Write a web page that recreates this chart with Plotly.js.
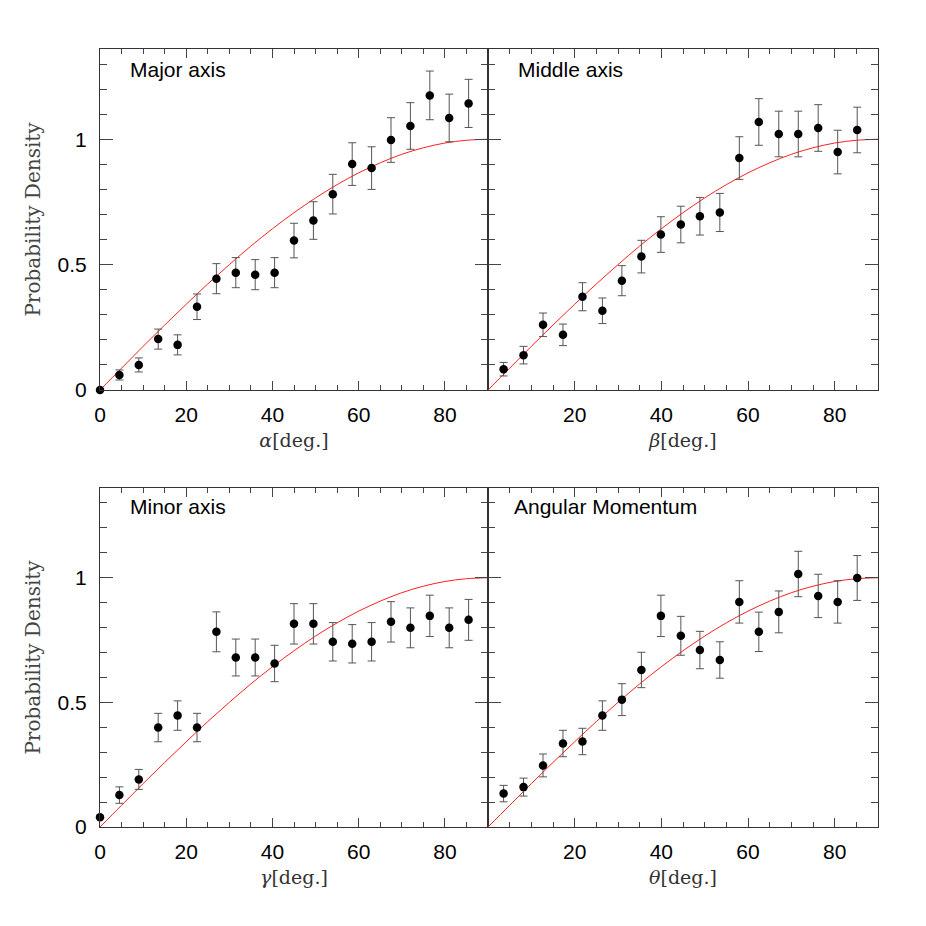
<!DOCTYPE html>
<html>
<head>
<meta charset="utf-8">
<script src="https://cdn.plot.ly/plotly-3.0.1.min.js"></script>
<style>html,body{margin:0;padding:0;background:#fff;}#chart{width:926px;height:926px;}</style>
</head>
<body>
<div id="chart"></div>
<script>
// Bin positions (degrees)
const xLeft = [0, 4.5, 9, 13.5, 18, 22.5, 27, 31.5, 36, 40.5, 45, 49.5, 54, 58.5, 63, 67.5, 72, 76.5, 81, 85.5];
const xRight = [3.6, 8.2, 12.7, 17.3, 21.8, 26.4, 30.9, 35.4, 39.9, 44.5, 48.9, 53.5, 58.0, 62.5, 67.1, 71.6, 76.2, 80.7, 85.2];

// Major axis (alpha)
const majorY   = [0.0, 0.06, 0.10, 0.203, 0.18, 0.332, 0.444, 0.468, 0.46, 0.468, 0.596, 0.676, 0.781, 0.901, 0.885, 0.997, 1.053, 1.175, 1.085, 1.143];
const majorErr = [0.0, 0.02, 0.028, 0.04, 0.04, 0.051, 0.06, 0.06, 0.06, 0.06, 0.069, 0.075, 0.079, 0.085, 0.085, 0.089, 0.093, 0.097, 0.095, 0.096];

// Middle axis (beta)
const middleY   = [0.083, 0.139, 0.26, 0.22, 0.372, 0.316, 0.436, 0.532, 0.62, 0.66, 0.693, 0.708, 0.925, 1.069, 1.021, 1.021, 1.045, 0.949, 1.037];
const middleErr = [0.027, 0.035, 0.047, 0.043, 0.056, 0.051, 0.06, 0.065, 0.071, 0.073, 0.075, 0.076, 0.085, 0.093, 0.091, 0.091, 0.093, 0.087, 0.091];

// Minor axis (gamma)
const minorY   = [0.039, 0.128, 0.191, 0.399, 0.447, 0.399, 0.783, 0.68, 0.68, 0.656, 0.815, 0.815, 0.743, 0.735, 0.743, 0.823, 0.799, 0.847, 0.799, 0.831];
const minorErr = [0.0, 0.033, 0.04, 0.057, 0.059, 0.057, 0.08, 0.074, 0.074, 0.073, 0.081, 0.081, 0.077, 0.077, 0.077, 0.081, 0.08, 0.083, 0.08, 0.082];

// Angular momentum (theta)
const angY   = [0.134, 0.16, 0.247, 0.335, 0.343, 0.447, 0.511, 0.63, 0.847, 0.767, 0.71, 0.67, 0.903, 0.783, 0.863, 1.015, 0.927, 0.903, 0.999];
const angErr = [0.033, 0.036, 0.046, 0.053, 0.053, 0.059, 0.064, 0.071, 0.083, 0.078, 0.075, 0.073, 0.085, 0.079, 0.084, 0.091, 0.087, 0.085, 0.09];

// Reference (isotropic) curve
const curveX = [0, 5, 10, 15, 20, 25, 30, 35, 40, 45, 50, 55, 60, 65, 70, 75, 80, 85, 90];
const curveY = [0, 0.087, 0.174, 0.259, 0.342, 0.423, 0.5, 0.574, 0.643, 0.707, 0.766, 0.819, 0.866, 0.906, 0.940, 0.966, 0.985, 0.996, 1.0];

const panelLabels = ['Major axis', 'Middle axis', 'Minor axis', 'Angular Momentum'];
const xTitles = ['<i>α</i>[deg.]', '<i>β</i>[deg.]', '<i>γ</i>[deg.]', '<i>θ</i>[deg.]'];
const yTitle = 'Probability Density';

const panels = [
  {x: xLeft,  y: majorY,  e: majorErr},
  {x: xRight, y: middleY, e: middleErr},
  {x: xLeft,  y: minorY,  e: minorErr},
  {x: xRight, y: angY,    e: angErr}
];

const W = 926;
const px = v => v / W;
const py = v => 1 - v / W;
const xDomains = [[px(100), px(488)], [px(488), px(878)], [px(100), px(488)], [px(488), px(878)]];
const yDomains = [[py(390), py(49)], [py(390), py(49)], [py(827), py(488)], [py(827), py(488)]];

const traces = [];
panels.forEach((p, i) => {
  const sfx = i === 0 ? '' : String(i + 1);
  traces.push({
    x: curveX, y: curveY, type: 'scatter', mode: 'lines',
    line: {color: '#ff2020', width: 1, shape: 'spline', smoothing: 1},
    xaxis: 'x' + sfx, yaxis: 'y' + sfx, hoverinfo: 'skip', cliponaxis: true
  });
  traces.push({
    x: p.x, y: p.y, type: 'scatter', mode: 'markers',
    marker: {color: '#000', size: 8.5},
    error_y: {type: 'data', array: p.e, visible: true, color: '#555', thickness: 1, width: 4},
    xaxis: 'x' + sfx, yaxis: 'y' + sfx, cliponaxis: false
  });
});

const tickFont = {family: 'Liberation Sans, Arial, sans-serif', size: 21, color: '#000'};
const layout = {
  width: 926, height: 926,
  margin: {l: 0, r: 0, t: 0, b: 0},
  paper_bgcolor: '#fff', plot_bgcolor: '#fff',
  showlegend: false,
  annotations: []
};

panels.forEach((p, i) => {
  const sfx = i === 0 ? '' : String(i + 1);
  const isLeft = (i % 2 === 0);
  layout['xaxis' + sfx] = {
    domain: xDomains[i], anchor: 'y' + sfx, range: [0, 90],
    showgrid: false, zeroline: false, showline: true, linecolor: '#333', linewidth: 1, mirror: 'allticks',
    ticks: 'inside', ticklen: 9, tickcolor: '#444', tickwidth: 1,
    tickvals: isLeft ? [0, 20, 40, 60, 80] : [20, 40, 60, 80],
    ticktext: isLeft ? ['0', '20', '40', '60', '80'] : ['20', '40', '60', '80'],
    minor: {ticks: 'inside', ticklen: 5, tickcolor: '#444', tickwidth: 1, dtick: 5, tick0: 0, showgrid: false},
    tickfont: tickFont, automargin: false, ticklabelstandoff: 6,
    title: {text: xTitles[i], font: {family: 'DejaVu Serif, serif', size: 19, color: '#333'}, standoff: 8}
  };
  layout['yaxis' + sfx] = {
    domain: yDomains[i], anchor: 'x' + sfx, range: [0, 1.36],
    showgrid: false, zeroline: false, showline: true, linecolor: '#333', linewidth: 1, mirror: 'allticks',
    ticks: 'inside', ticklen: 13, tickcolor: '#444', tickwidth: 1,
    tickvals: [0, 0.5, 1], ticktext: ['0', '0.5', '1'],
    showticklabels: isLeft,
    minor: {ticks: 'inside', ticklen: 7, tickcolor: '#444', tickwidth: 1, dtick: 0.1, tick0: 0, showgrid: false},
    tickfont: tickFont, automargin: false, ticklabelstandoff: 8,
    title: isLeft ? {text: yTitle, font: {family: 'DejaVu Serif, serif', size: 20, color: '#444'}, standoff: 11} : {text: ''}
  };
  layout.annotations.push({
    text: panelLabels[i], xref: 'paper', yref: 'paper',
    x: px(isLeft ? 128 : (i === 1 ? 516 : 512)),
    y: py(i < 2 ? 69 : 507),
    xanchor: 'left', yanchor: 'middle', showarrow: false,
    font: {family: 'Liberation Sans, Arial, sans-serif', size: 21, color: '#000'}
  });
});

Plotly.newPlot('chart', traces, layout, {staticPlot: true, displayModeBar: false});
</script>
</body>
</html>
